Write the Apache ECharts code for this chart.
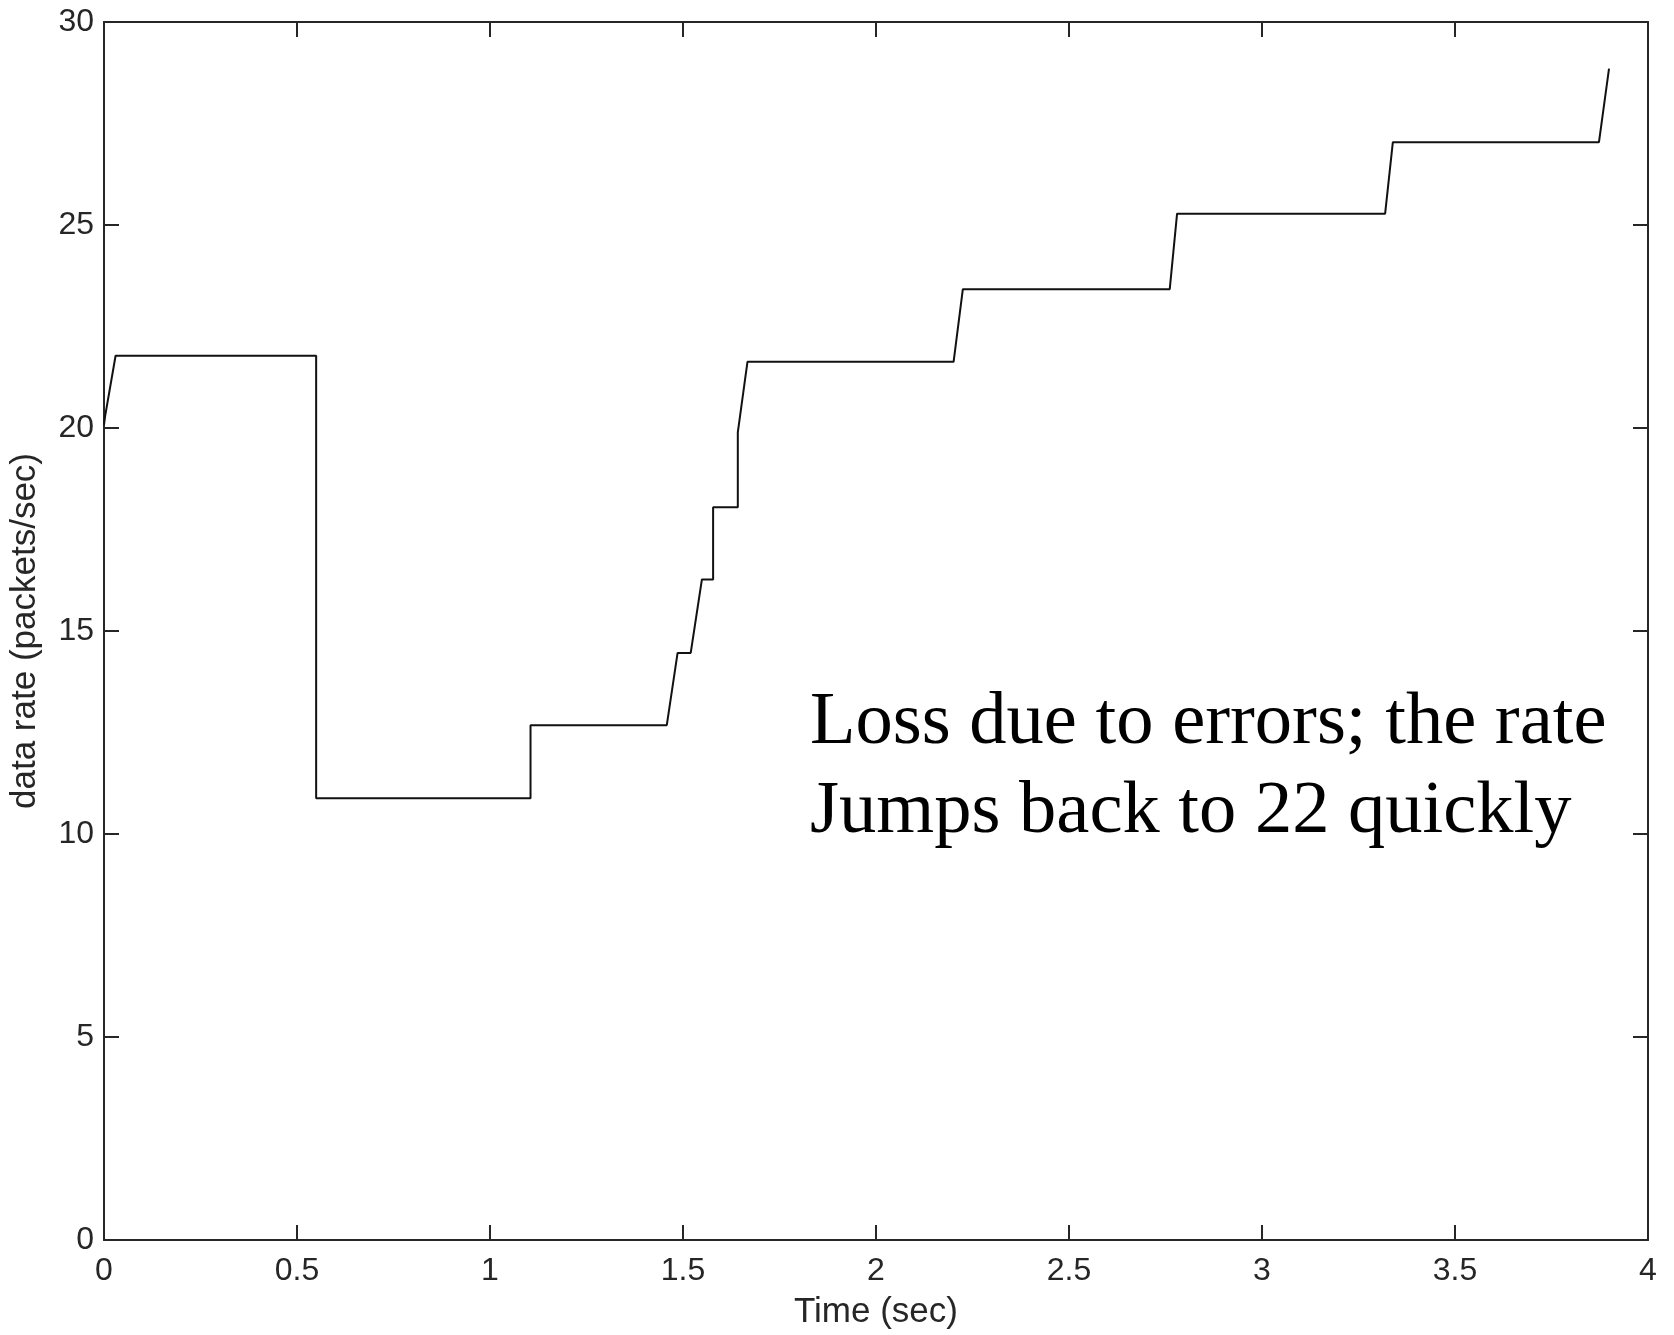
<!DOCTYPE html>
<html>
<head>
<meta charset="utf-8">
<script src="https://cdn.jsdelivr.net/npm/echarts@6/dist/echarts.min.js"></script>
<style>
html,body{margin:0;padding:0;background:#fff;}
#chart{width:1674px;height:1335px;}
</style>
</head>
<body>
<div id="chart"></div>
<script>
// Data
var timeSec = [0, 0.003, 0.030, 0.5496, 0.5496, 1.105, 1.105, 1.458, 1.486, 1.520, 1.549, 1.578, 1.578, 1.642, 1.642, 1.667, 2.201, 2.225, 2.761, 2.780, 3.319, 3.339, 3.873, 3.899];
var rate    = [20.08, 20.3, 21.78, 21.78, 10.88, 10.88, 12.68, 12.68, 14.46, 14.46, 16.27, 16.27, 18.05, 18.05, 19.89, 21.63, 21.63, 23.42, 23.42, 25.28, 25.28, 27.04, 27.04, 28.85];
var xTicks = [0, 0.5, 1, 1.5, 2, 2.5, 3, 3.5, 4];
var yTicks = [0, 5, 10, 15, 20, 25, 30];
var xName = 'Time (sec)';
var yName = 'data rate (packets/sec)';
var noteLines = ['Loss due to errors; the rate', 'Jumps back to 22 quickly'];

var seriesData = timeSec.map(function (t, i) { return [t, rate[i]]; });

var axisColor = '#262626';
var tickFont = 'Liberation Sans, Arial, sans-serif';

function baseAxis(extra) {
  var a = {
    type: 'value',
    axisLine: { show: true, onZero: false, lineStyle: { color: axisColor, width: 2 } },
    axisTick: { show: true, inside: true, length: 15, lineStyle: { color: axisColor, width: 2 } },
    splitLine: { show: false }
  };
  for (var k in extra) a[k] = extra[k];
  return a;
}

var chart = echarts.init(document.getElementById('chart'), null, { renderer: 'canvas' });
chart.setOption({
  backgroundColor: '#ffffff',
  animation: false,
  grid: { left: 100, top: 22, right: 26, bottom: 94, containLabel: false },
  xAxis: [
    baseAxis({
      position: 'bottom', min: xTicks[0], max: xTicks[xTicks.length - 1], interval: 0.5,
      name: xName, nameLocation: 'middle', nameGap: 55,
      nameTextStyle: { fontFamily: tickFont, fontSize: 35, color: axisColor },
      axisLabel: { margin: 15, fontFamily: tickFont, fontSize: 32, color: axisColor,
        showMinLabel: true, showMaxLabel: true }
    }),
    baseAxis({
      position: 'top', min: xTicks[0], max: xTicks[xTicks.length - 1], interval: 0.5,
      axisLabel: { show: false }
    })
  ],
  yAxis: [
    baseAxis({
      position: 'left', min: yTicks[0], max: yTicks[yTicks.length - 1], interval: 5,
      name: yName, nameLocation: 'middle', nameGap: 61, nameRotate: 90,
      nameTextStyle: { fontFamily: tickFont, fontSize: 35, color: axisColor },
      axisLabel: { margin: 10, fontFamily: tickFont, fontSize: 32, color: axisColor,
        showMinLabel: true, showMaxLabel: true }
    }),
    baseAxis({
      position: 'right', min: yTicks[0], max: yTicks[yTicks.length - 1], interval: 5,
      axisLabel: { show: false }
    })
  ],
  series: [{
    type: 'line',
    data: seriesData,
    xAxisIndex: 0,
    yAxisIndex: 0,
    showSymbol: false,
    symbol: 'none',
    lineStyle: { color: '#111111', width: 2 },
    z: 3
  }],
  graphic: [{
    type: 'text',
    left: 810,
    top: 679,
    style: {
      text: noteLines.join('\n'),
      font: '74.5px "Liberation Serif", "Times New Roman", serif',
      lineHeight: 89,
      fill: '#000000'
    }
  }]
});
</script>
</body>
</html>
